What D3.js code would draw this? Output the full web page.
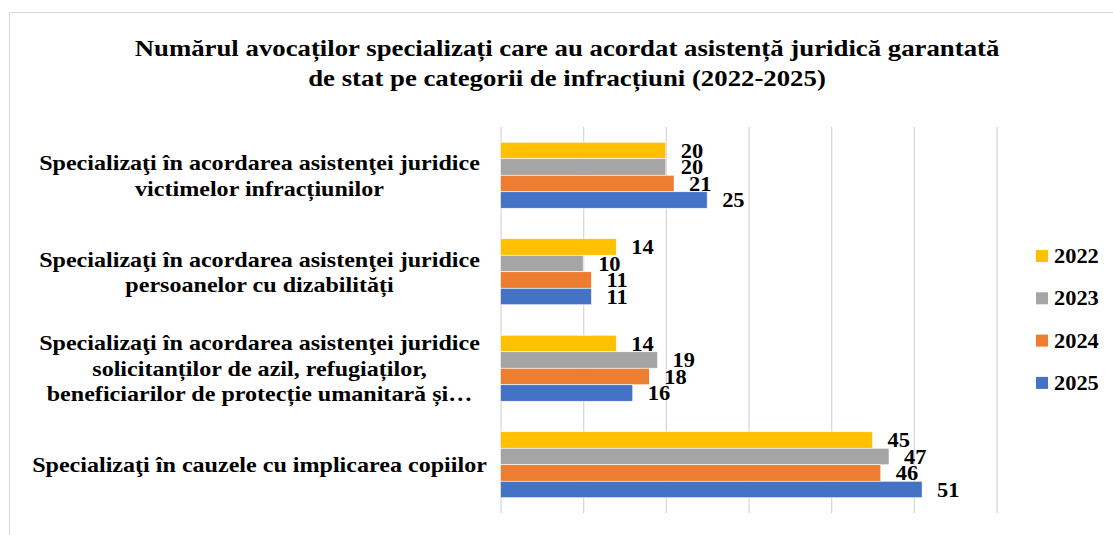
<!DOCTYPE html>
<html>
<head>
<meta charset="utf-8">
<script src="https://cdn.jsdelivr.net/npm/d3@7"></script>
<style>
html,body{margin:0;padding:0;background:#fff;}
svg{display:block;}
text{font-family:"Liberation Serif","Times New Roman",serif;font-weight:bold;fill:#000;}
</style>
</head>
<body>
<svg id="chart" width="1113" height="535"></svg>
<script>
const titleLines = [
  "Numărul avocaților specializați care au acordat asistență juridică garantată",
  "de stat pe categorii de infracțiuni (2022-2025)"
];
const categories = ["victime", "dizabilitati", "azil", "copii"];
const categoryLines = [
  ["Specializaţi în acordarea asistenţei juridice", "victimelor infracțiunilor"],
  ["Specializaţi în acordarea asistenţei juridice", "persoanelor cu dizabilități"],
  ["Specializaţi în acordarea asistenţei juridice", "solicitanților de azil, refugiaților,", "beneficiarilor de protecție umanitară și…"],
  ["Specializaţi în cauzele cu implicarea copiilor"]
];
const seriesNames = ["2022", "2023", "2024", "2025"];
const values2022 = [20, 14, 14, 45];
const values2023 = [20, 10, 19, 47];
const values2024 = [21, 11, 18, 46];
const values2025 = [25, 11, 16, 51];
const seriesColors = ["#FFC000", "#A5A5A5", "#ED7D31", "#4472C4"];
const gridTicks = [0, 10, 20, 30, 40, 50, 60];

const seriesValues = [values2022, values2023, values2024, values2025];
const svg = d3.select("#chart");
const SX = 1.12; // horizontal text stretch seen in the reference

// outer border
svg.append("path")
  .attr("d", "M9.5,540 L9.5,12.5 L1120,12.5")
  .attr("fill", "none").attr("stroke", "#d9d9d9").attr("stroke-width", 1);

// title
svg.append("text")
  .attr("text-anchor", "middle")
  .attr("font-size", 23.5)
  .attr("transform", `translate(567,0) scale(1.14,1)`)
  .selectAll("tspan").data(titleLines).join("tspan")
  .attr("x", 0).attr("y", (d, i) => 56.5 + i * 30)
  .text(d => d);

const plotTop = 127, plotBottom = 513;
const x = d3.scaleLinear().domain([0, 60]).range([500.5, 996.5]);
const y = d3.scaleBand().domain(categories).range([plotTop, plotBottom]).paddingInner(0.316).paddingOuter(0.158);
const yInner = d3.scaleBand().domain(seriesNames).range([0, y.bandwidth()]);

// grid
const grid = svg.append("g").attr("transform", `translate(0,${plotBottom})`)
  .call(d3.axisBottom(x).tickValues(gridTicks).tickSize(-(plotBottom - plotTop)).tickFormat(""));
grid.select(".domain").remove();
grid.selectAll(".tick line").attr("stroke", "#d9d9d9").attr("stroke-width", 1.3);

// bars
const groups = svg.append("g").selectAll("g").data(categories).join("g")
  .attr("transform", c => `translate(0,${y(c)})`);

groups.each(function(c, ci) {
  const g = d3.select(this);
  seriesNames.forEach((s, si) => {
    const v = seriesValues[si][ci];
    g.append("rect")
      .attr("x", x(0)).attr("y", yInner(s))
      .attr("width", x(v) - x(0)).attr("height", yInner.bandwidth())
      .attr("fill", seriesColors[si])
      .attr("stroke", "#ffffff").attr("stroke-width", 0.6);
  });
  seriesNames.forEach((s, si) => {
    const v = seriesValues[si][ci];
    g.append("text")
      .attr("transform", `translate(${x(v) + 15},${yInner(s) + yInner.bandwidth() / 2}) scale(${SX},1)`)
      .attr("dy", "0.35em")
      .attr("font-size", 20)
      .text(v);
  });
});

// category labels
const lineH = 25.5;
svg.append("g").selectAll("text").data(categories).join("text")
  .attr("text-anchor", "middle")
  .attr("font-size", 21.5)
  .attr("transform", c => `translate(259.5,${y(c) + y.bandwidth() / 2}) scale(${SX},1)`)
  .each(function(c, ci) {
    const lines = categoryLines[ci];
    const start = -(lines.length - 1) * lineH / 2;
    d3.select(this).selectAll("tspan").data(lines).join("tspan")
      .attr("x", 0).attr("y", (d, i) => start + i * lineH)
      .attr("dy", "0.35em")
      .text(d => d);
  });

// legend
const legend = svg.append("g").selectAll("g").data(seriesNames).join("g")
  .attr("transform", (d, i) => `translate(1036,${256 + i * 42.3})`);
legend.append("rect").attr("x", 0).attr("y", -6).attr("width", 12).attr("height", 12)
  .attr("fill", (d, i) => seriesColors[i]);
legend.append("text").attr("transform", `translate(18,0) scale(${SX},1)`)
  .attr("dy", "0.35em").attr("font-size", 20).text(d => d);
</script>
</body>
</html>
